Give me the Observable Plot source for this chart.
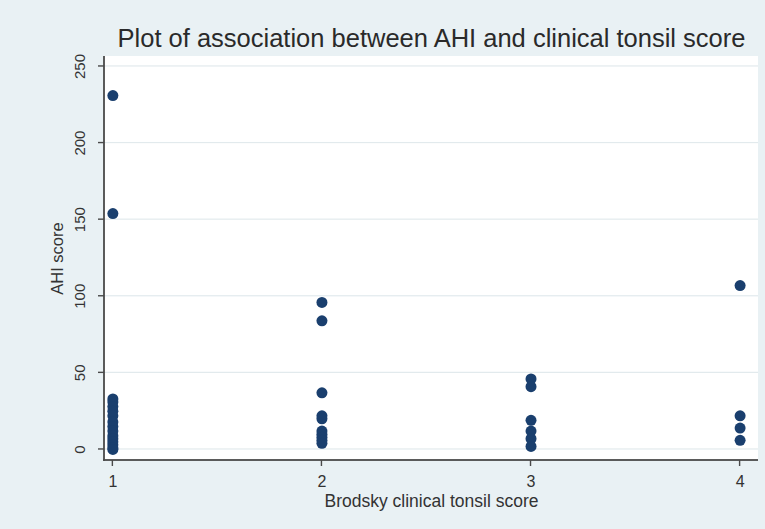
<!DOCTYPE html>
<html><head><meta charset="utf-8">
<script src="https://cdn.jsdelivr.net/npm/d3@7"></script>
<script src="https://cdn.jsdelivr.net/npm/@observablehq/plot@0.6"></script>
<style>body{margin:0;background:#e9f1f4;}</style>
</head><body><div id="chart"></div>
<script>
const titleText = "Plot of association between AHI and clinical tonsil score";
const xLabel = "Brodsky clinical tonsil score";
const yLabel = "AHI score";
const xTicks = [1, 2, 3, 4];
const yTicks = [0, 50, 100, 150, 200, 250];
const ahiTonsil1 = [231, 154, 33, 31, 28, 25, 22, 18, 15, 12, 9, 7, 5, 3, 1, 0];
const ahiTonsil2 = [96, 84, 37, 22, 20, 12, 10, 8, 6, 4];
const ahiTonsil3 = [46, 41, 19, 12, 7, 2];
const ahiTonsil4 = [107, 22, 14, 6];

const series = [ahiTonsil1, ahiTonsil2, ahiTonsil3, ahiTonsil4];
const data = series.flatMap((vals, i) => vals.map(v => ({score: xTicks[i], ahi: v})));

const font = "Liberation Sans, Arial, sans-serif";
const ink = "#333333";
const axisInk = "#4a4a4a";
const W = 765, H = 529;
// plot region (white area) in data units
const xMin = 0.96, xMax = 4.088, yMin = -7.2, yMax = 256.5;
// whole-SVG domains so the white region sits at 104..758 x 56..460 px
const pxX = 654 / (xMax - xMin);
const pxY = 404 / (yMax - yMin);
const xDom = [xMin - 104 / pxX, xMax + 7 / pxX];
const yDom = [yMin - 69 / pxY, yMax + 56 / pxY];
const xPx = 1 / pxX, yPx = 1 / pxY;
const xMid = (xMin + xMax) / 2, yMid = (yMin + yMax) / 2;

const chart = Plot.plot({
  width: W,
  height: H,
  margin: 0,
  x: {type: "linear", domain: xDom, axis: null},
  y: {type: "linear", domain: yDom, axis: null},
  marks: [
    Plot.rect([0], {x1: xMin, x2: xMax, y1: yMin, y2: yMax, fill: "white"}),
    Plot.rect(yTicks, {y1: d => d - 0.6 * yPx, y2: d => d + 0.6 * yPx, x1: xMin, x2: xMax, fill: "#e2eaed"}),
    // axis lines
    Plot.rect([xMin], {x1: d => d - 0.9 * xPx, x2: d => d + 0.9 * xPx, y1: yMin - 0.9 * yPx, y2: yMax, fill: axisInk}),
    Plot.rect([yMin], {y1: d => d - 0.9 * yPx, y2: d => d + 0.9 * yPx, x1: xMin - 0.9 * xPx, x2: xMax, fill: axisInk}),
    // tick marks
    Plot.rect(yTicks, {y1: d => d - 0.7 * yPx, y2: d => d + 0.7 * yPx, x1: xMin - 6 * xPx, x2: xMin, fill: axisInk}),
    Plot.rect(xTicks, {x1: d => d - 0.7 * xPx, x2: d => d + 0.7 * xPx, y1: yMin - 6 * yPx, y2: yMin, fill: axisInk}),
    Plot.text(yTicks, {x: xMin, y: d => d, text: d => String(d), dx: -24, rotate: -90, fontSize: 15, fontFamily: font, fill: ink}),
    Plot.text(xTicks, {x: d => d, y: yMin, text: d => String(d), dy: 21, fontSize: 16, fontFamily: font, fill: ink}),
    Plot.dot(data, {x: "score", y: "ahi", r: 5.5, fill: "#1a3f6e", stroke: "none"}),
    Plot.text([titleText], {x: xMid, y: yMax, dy: -10, fontSize: 25.5, fontFamily: font, lineAnchor: "bottom", fill: "#2a2a2a"}),
    Plot.text([yLabel], {x: xMin, y: yMid, dx: -47, rotate: -90, fontSize: 16.5, fontFamily: font, fill: ink}),
    Plot.text([xLabel], {x: xMid, y: yMin, dy: 41, fontSize: 17.5, fontFamily: font, fill: ink})
  ]
});
document.getElementById("chart").append(chart);
</script>
</body></html>
